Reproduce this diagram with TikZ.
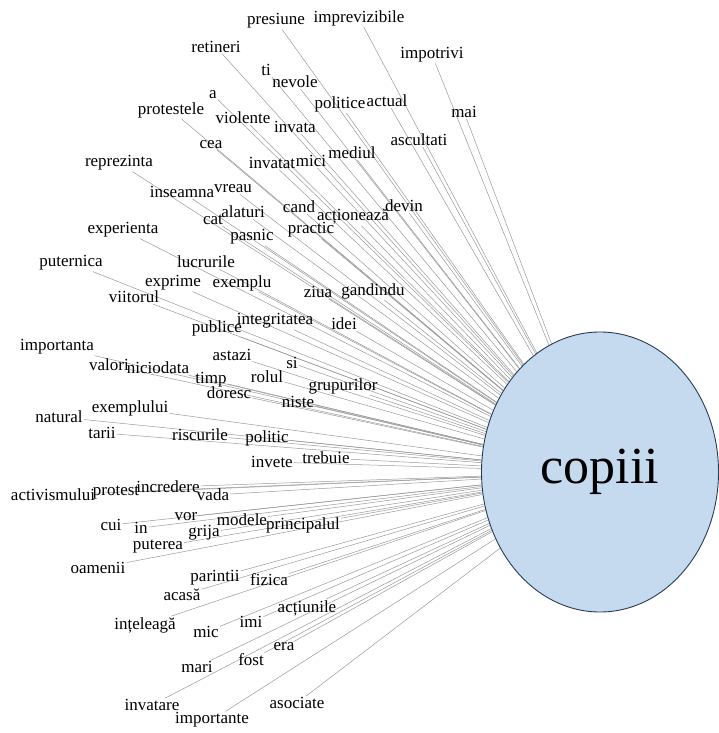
\documentclass[tikz,border=0pt]{standalone}
\usepackage{fontspec}
\setmainfont{Liberation Serif}
\usetikzlibrary{shapes.geometric}
\pgfdeclarelayer{bg}
\pgfsetlayers{bg,main}
\definecolor{bubble}{RGB}{197,217,239}
\definecolor{rim}{RGB}{40,60,85}
\tikzset{
  word/.style={font=\fontsize{17}{17}\selectfont, inner sep=1pt, text=black},
  link/.style={draw=gray!80, line width=0.5pt},
  hub/.style={ellipse, draw=rim, line width=0.9pt, fill=bubble,
    minimum width=237pt, minimum height=280pt, inner sep=0pt,
    font=\fontsize{52}{52}\selectfont}
}
\begin{document}
\begin{tikzpicture}[x=1pt,y=-1pt]
\useasboundingbox (0,0) rectangle (718,733);
\node[hub] (c) at (600,472) {copiii};
\foreach \n/\x/\y/\t in {
1/276/21/presiune, 2/359/18/imprevizibile, 3/216/47/retineri, 4/266/70/ti,
5/295/82/nevole, 6/432/55/impotrivi, 7/213/95/a, 8/171/110/protestele,
9/243/118/violente, 10/295/127/invata, 11/340/104/politice, 12/387/101/actual,
13/464/112/mai, 14/211/145/cea, 15/272/163/invatat, 16/311/161/mici,
17/352/153/mediul, 18/419/140/ascultati, 19/119/163/reprezinta, 20/182/192/inseamna,
21/233/189/vreau, 22/299/207/cand, 23/353/217/acționează, 24/404/206/devin,
25/213/220/cat, 26/243/212/alaturi, 27/123/230/experienta, 28/252/237/pasnic,
29/311/230/practic, 30/71/263/puternica, 31/206/262/lucrurile, 32/173/283/exprime,
33/242/283/exemplu, 34/134/297/viitorul, 35/318/292/ziua, 36/373/291/gandindu,
37/217/328/publice, 38/275/321/integritatea, 39/344/324/idei, 40/57/347/importanta,
41/232/355/astazi, 42/292/363/si, 43/109/365/valori, 44/158/368/niciodata,
45/211/380/timp, 46/267/377/rolul, 47/343/386/grupurilor, 48/229/393/doresc,
49/298/402/niste, 50/59/417/natural, 51/130/408/exemplului, 52/102/433/tarii,
53/200/435/riscurile, 54/267/438/politic, 55/272/462/invete, 56/326/458/trebuie,
57/53/495/activismului, 58/116/493/protest, 59/168/487/incredere, 60/213/495/vada,
61/111/525/cui, 62/141/528/in, 63/186/517/vor, 64/204/533/grija,
65/242/520/modele, 66/303/525/principalul, 67/158/547/puterea, 68/98/568/oamenii,
69/215/578/parintii, 70/269/580/fizica, 71/182/595/acasă, 72/307/608/acțiunile,
73/145/625/ințeleagă, 74/206/632/mic, 75/251/622/imi, 76/284/647/era,
77/251/660/fost, 78/197/667/mari, 79/152/705/invatare, 80/297/703/asociate,
81/212/720/importante}
{
  \node[word] (w\n) at (\x,\y) {\t};
  \begin{pgfonlayer}{bg}
    \draw[link] (w\n) -- (c);
  \end{pgfonlayer}
}
\end{tikzpicture}
\end{document}
